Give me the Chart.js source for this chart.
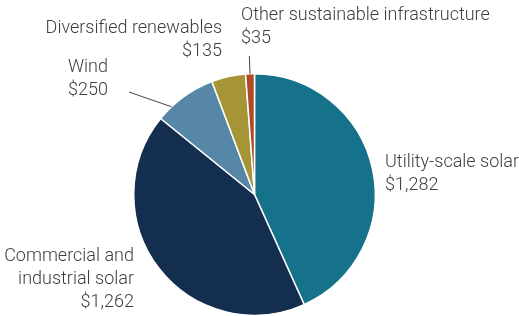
<!DOCTYPE html>
<html>
<head>
<meta charset="utf-8">
<script src="https://cdn.jsdelivr.net/npm/chart.js@4"></script>
<style>
  html, body { margin: 0; padding: 0; background: #fff; }
  #wrap { width: 519px; height: 316px; position: relative; }
</style>
</head>
<body>
<div id="wrap"><canvas id="pieChart" width="519" height="316"></canvas></div>
<script>
const categories = [
  "Utility-scale solar",
  "Commercial and industrial solar",
  "Wind",
  "Diversified renewables",
  "Other sustainable infrastructure",
];
const values = [1282, 1262, 250, 135, 35];
const valueLabels = ["$1,282", "$1,262", "$250", "$135", "$35"];
const colors = ["#16718a", "#132e4f", "#5787a6", "#a69537", "#b04a25"];

// label text lines and where they sit
const labelLines = [
  ["Utility-scale solar", valueLabels[0]],
  ["Commercial and", "industrial solar", valueLabels[1]],
  ["Wind", valueLabels[2]],
  ["Diversified renewables", valueLabels[3]],
  ["Other sustainable infrastructure", valueLabels[4]],
];
const labelPos = [
  { x: 385, y: 162, align: "left" },
  { x: 134, y: 256, align: "right" },
  { x: 108, y: 67, align: "right" },
  { x: 222, y: 28, align: "right" },
  { x: 241, y: 15, align: "left" },
];

const pieLabels = {
  id: "pieLabels",
  afterDraw(chart) {
    const ctx = chart.ctx;
    const meta = chart.getDatasetMeta(0);
    ctx.save();
    ctx.font = "300 18px Roboto";
    ctx.fillStyle = "#3d3d3d";
    ctx.textBaseline = "middle";
    labelLines.forEach((lines, i) => {
      const p = labelPos[i];
      ctx.textAlign = p.align;
      lines.forEach((t, j) => ctx.fillText(t, p.x, p.y + j * 23));
    });

    // leader lines
    ctx.strokeStyle = "#444";
    ctx.lineWidth = 1;
    const other = meta.data[4];
    const midO = (other.startAngle + other.endAngle) / 2;
    const r = other.outerRadius;
    ctx.beginPath();
    ctx.moveTo(other.x + Math.cos(midO) * r, other.y + Math.sin(midO) * r);
    ctx.lineTo(other.x + Math.cos(midO) * (r + 18), other.y + Math.sin(midO) * (r + 18));
    ctx.stroke();

    const wind = meta.data[2];
    const a = wind.startAngle + (wind.endAngle - wind.startAngle) * 0.25;
    ctx.beginPath();
    ctx.moveTo(wind.x + Math.cos(a) * r, wind.y + Math.sin(a) * r);
    ctx.lineTo(129, 92);
    ctx.stroke();
    ctx.restore();
  },
};

new Chart(document.getElementById("pieChart").getContext("2d"), {
  type: "pie",
  data: {
    labels: categories,
    datasets: [
      {
        data: values,
        backgroundColor: colors,
        borderColor: "#ffffff",
        borderWidth: 1.5,
      },
    ],
  },
  options: {
    responsive: false,
    animation: false,
    layout: { padding: { top: 73, bottom: 0, left: 133, right: 143 } },
    plugins: {
      legend: { display: false },
      tooltip: { enabled: false },
    },
  },
  plugins: [pieLabels],
});
</script>
</body>
</html>
